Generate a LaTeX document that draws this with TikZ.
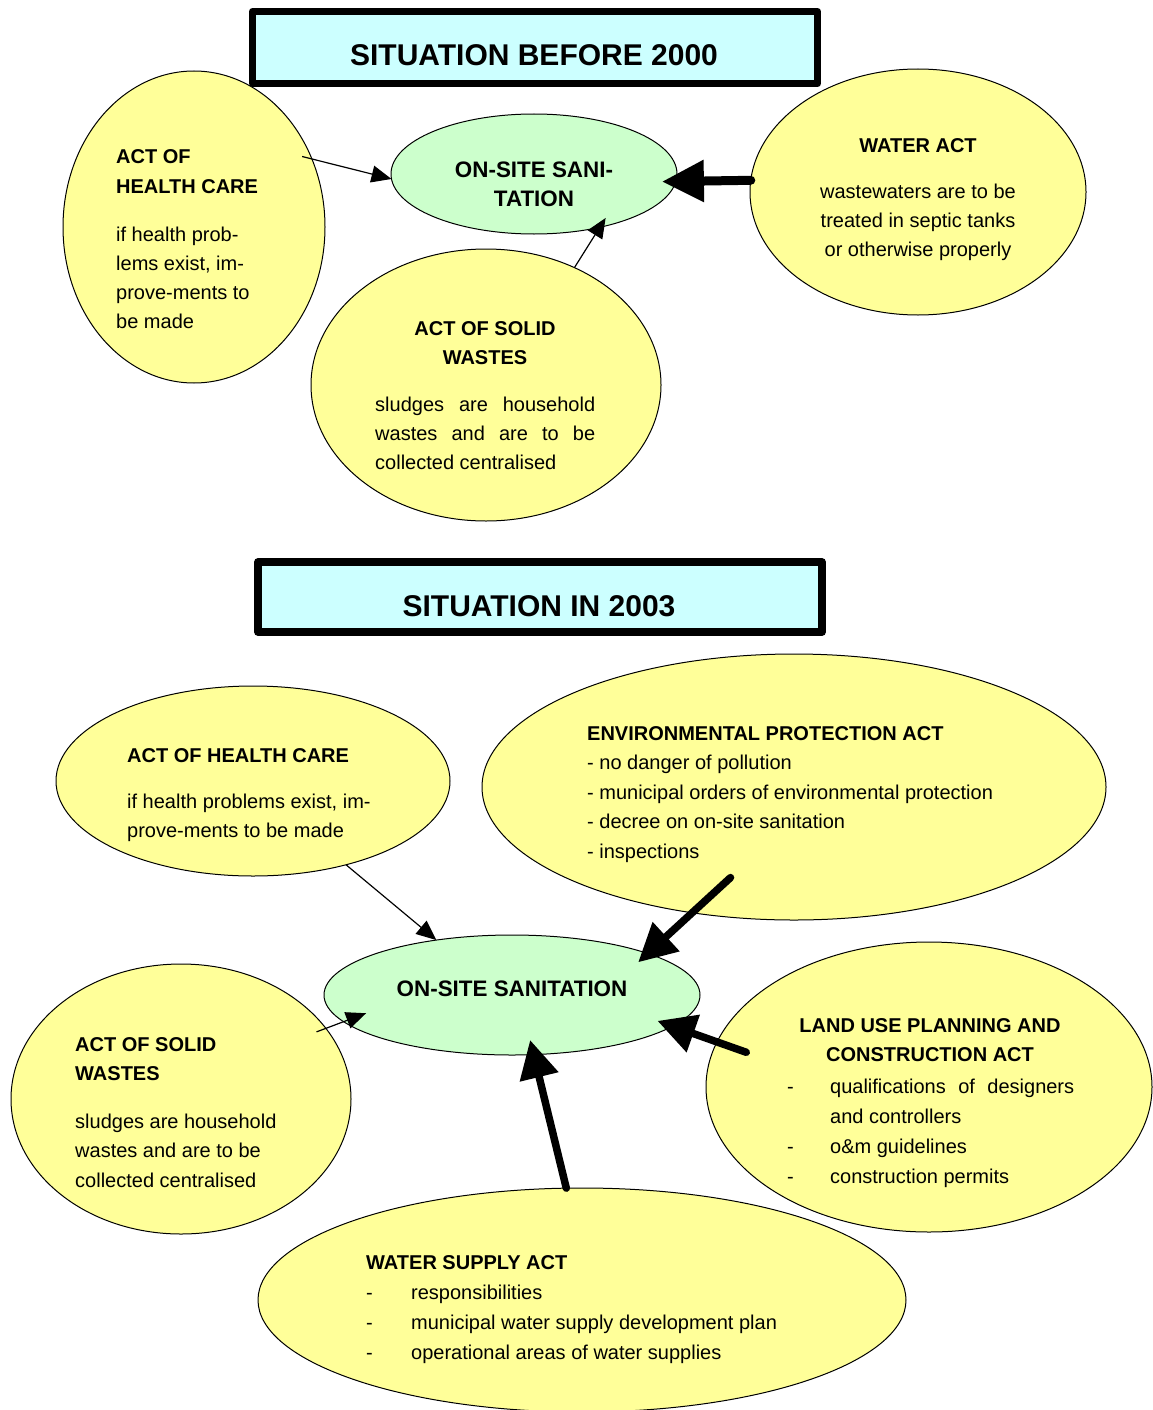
\documentclass[tikz,border=0pt]{standalone}
\usepackage{fontspec}
\setmainfont{Liberation Sans}
\usetikzlibrary{positioning,arrows.meta,shapes.geometric}
\definecolor{lawyellow}{RGB}{255,255,153}
\definecolor{sangreen}{RGB}{204,255,204}
\definecolor{titlecyan}{RGB}{204,255,255}
\tikzset{
  titlebox/.style={rectangle,draw=black,line width=7pt,line join=round,fill=titlecyan,inner sep=0pt,outer sep=0pt},
  titletext/.style={font=\fontsize{30}{35}\selectfont\bfseries,inner sep=0pt},
  lawbubble/.style={ellipse,draw=black,line width=1pt,fill=lawyellow,inner sep=0pt,outer sep=0pt},
  sanbubble/.style={ellipse,draw=black,line width=1pt,fill=sangreen,inner sep=0pt,outer sep=0pt},
  santext/.style={font=\fontsize{22.4}{29}\selectfont\bfseries,align=center,inner sep=0pt},
  headtext/.style={font=\fontsize{20}{29}\selectfont\bfseries,align=left,inner sep=0pt},
  bodytext/.style={font=\fontsize{20}{29}\selectfont,align=left,inner sep=0pt},
  thinedge/.style={-{Triangle[length=20pt,width=17pt]},line width=1.2pt},
  thickedge/.style={-{Triangle[length=38pt,width=38pt]},line width=7.5pt,line cap=round}
}
\begin{document}
\begin{tikzpicture}[x=1pt,y=-1pt]
  \useasboundingbox (0,0) rectangle (1152,1410);
  % situation before 2000
  \node[titlebox,minimum width=565pt,minimum height=72pt] (title1) at (535,47.5) {};
  \node[titletext] (title1txt) at (534,55) {SITUATION BEFORE 2000};
  \node[lawbubble,minimum width=262pt,minimum height=312pt] (hc1) at (194,227) {};
  \node[sanbubble,minimum width=286pt,minimum height=120pt] (os1) at (534,174) {};
  \node[lawbubble,minimum width=336pt,minimum height=246pt] (wa) at (918,192) {};
  \node[lawbubble,minimum width=350pt,minimum height=272pt] (sw1) at (486,385) {};
  \node[headtext,anchor=base west] (hc1head) at (116,193) {ACT OF\\HEALTH CARE};
  \node[bodytext,anchor=base west] (hc1body) at (116,328) {if health prob-\\lems exist, im-\\prove-ments to\\be made};
  \node[santext,anchor=base] (os1txt) at (534,206) {ON-SITE SANI-\\TATION};
  \node[headtext,anchor=base] (wahead) at (918,152) {WATER ACT};
  \node[bodytext,align=center,anchor=base] (wabody) at (918,256) {wastewaters are to be\\treated in septic tanks\\or otherwise properly};
  \node[headtext,align=center,anchor=base] (sw1head) at (485,364) {ACT OF SOLID\\WASTES};
  \node[bodytext,anchor=base west] (sw1body) at (375,469) {\makebox[220pt][s]{sludges are household}\\\makebox[220pt][s]{wastes and are to be}\\collected centralised};
  \draw[thinedge,shorten <=-10pt] (hc1.30) -- (os1.182);
  \draw[thinedge,shorten >=-11pt] (sw1.53) -- (os1.-39);
  \draw[thickedge,line width=9pt,-{Triangle[length=42pt,width=40pt]},shorten >=-14pt] (wa.176) -- (os1.-3);
  % situation in 2003
  \node[titlebox,minimum width=564pt,minimum height=70pt,line width=7.5pt] (title2) at (540,597) {};
  \node[titletext] (title2txt) at (539,606) {SITUATION IN 2003};
  \node[lawbubble,minimum width=394pt,minimum height=190pt] (hc2) at (253,781) {};
  \node[lawbubble,minimum width=624pt,minimum height=266pt] (env) at (794,787) {};
  \node[sanbubble,minimum width=376pt,minimum height=120pt] (os2) at (512,995) {};
  \node[lawbubble,minimum width=340pt,minimum height=270pt] (sw2) at (181,1099) {};
  \node[lawbubble,minimum width=446pt,minimum height=290pt] (lu) at (929,1087) {};
  \node[lawbubble,minimum width=648pt,minimum height=224pt] (ws) at (582,1300) {};
  \node[headtext,anchor=base west] (hc2head) at (127,762) {ACT OF HEALTH CARE};
  \node[bodytext,anchor=base west] (hc2body) at (127,837) {if health problems exist, im-\\prove-ments to be made};
  \node[bodytext,font=\fontsize{20}{29.5}\selectfont,anchor=base west] (envtxt) at (587,858) {\textbf{ENVIRONMENTAL PROTECTION ACT}\\- no danger of pollution\\- municipal orders of environmental protection\\- decree on on-site sanitation\\- inspections};
  \node[santext] (os2txt) at (512,989) {ON-SITE SANITATION};
  \node[headtext,anchor=base west] (sw2head) at (75,1080) {ACT OF SOLID\\WASTES};
  \node[bodytext,font=\fontsize{20}{29.5}\selectfont,anchor=base west] (sw2body) at (75,1187) {sludges are household\\wastes and are to be\\collected centralised};
  \node[headtext,align=center,anchor=base] (luhead) at (930,1061) {LAND USE PLANNING AND\\CONSTRUCTION ACT};
  \node[bodytext,font=\fontsize{20}{30}\selectfont,anchor=base west] (lubody) at (787,1183) {\makebox[43pt][l]{-}\makebox[244pt][s]{qualifications of designers}\\\hspace*{43pt}and controllers\\\makebox[43pt][l]{-}o\&m guidelines\\\makebox[43pt][l]{-}construction permits};
  \node[bodytext,font=\fontsize{20}{30}\selectfont,anchor=base west] (wstxt) at (366,1359) {\textbf{WATER SUPPLY ACT}\\\makebox[45pt][l]{-}responsibilities\\\makebox[45pt][l]{-}municipal water supply development plan\\\makebox[45pt][l]{-}operational areas of water supplies};
  \draw[thinedge] (hc2.-42) -- (os2.144);
  \draw[thinedge,shorten <=-10pt,shorten >=-24pt] (sw2.26) -- (os2.189);
  \draw[thickedge,shorten <=-52pt,shorten >=-13pt] (env.231) -- (os2.17);
  \draw[thickedge,shorten <=-31pt,shorten >=-16pt] (lu.168) -- (os2.-11);
  \draw[thickedge,shorten >=-15pt] (ws.98) -- (os2.-70);
\end{tikzpicture}
\end{document}
